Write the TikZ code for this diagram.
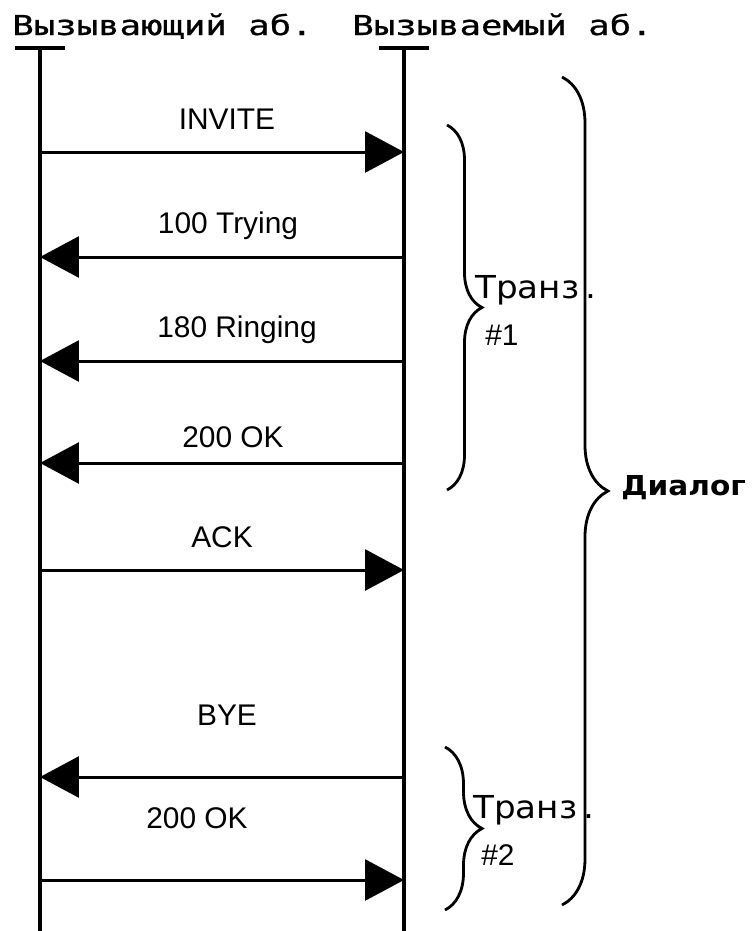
\documentclass[tikz,border=0pt]{standalone}
\usepackage{fontspec}
\setmainfont{Liberation Sans}
\newfontfamily\hdrfont[FakeStretch=1.3,FakeBold=0.8]{DejaVu Sans Mono}
\newfontfamily\brfont[FakeStretch=1.08]{DejaVu Sans}
\usetikzlibrary{arrows.meta,decorations.pathreplacing}

\tikzset{
  lifeline/.style={line width=2pt},
  msg/.style={line width=1.7pt, -{Triangle[length=0.78cm,width=0.82cm]}},
  lbl/.style={anchor=base, inner sep=0pt, font=\fontsize{17}{20}\selectfont},
  hdr/.style={anchor=base west, inner sep=0pt, font=\hdrfont\fontsize{15.6}{20}\selectfont},
  brc/.style={decorate, decoration={brace, amplitude=#1}, line width=1.6pt},
  brtxt/.style={anchor=base west, inner sep=0pt, font=\brfont\fontsize{18}{20}\selectfont},
  brnum/.style={anchor=base west, inner sep=0pt, font=\fontsize{17}{20}\selectfont}
}

\begin{document}
\begin{tikzpicture}[x=0.02cm, y=-0.02cm]
    \useasboundingbox (0,0) rectangle (752,931);

    % Abonents
    \node[hdr] (caller) at (12,35) {Вызывающий аб.};
    \node[hdr] (callee) at (352,35) {Вызываемый аб.};

    % Lifelines
    \coordinate (callerTop) at (40,48);
    \coordinate (callerEnd) at (40,931);
    \coordinate (calleeTop) at (404,48);
    \coordinate (calleeEnd) at (404,931);
    \draw[lifeline] ([xshift=-0.5cm]callerTop) -- ([xshift=0.5cm]callerTop);
    \draw[lifeline] ([xshift=-0.5cm]calleeTop) -- ([xshift=0.5cm]calleeTop);
    \draw[lifeline] (callerTop) -- (callerEnd);
    \draw[lifeline] (calleeTop) -- (calleeEnd);

    % Messages
    \foreach \name/\y in {invite/152, trying/257, ringing/361, okA/463,
                          ack/570, bye/777, okB/880} {
        \coordinate (\name-l) at (callerTop |- 0,\y);
        \coordinate (\name-r) at (calleeTop |- 0,\y);
    }
    \draw[msg] (invite-l) -- (invite-r);
    \draw[msg] (trying-r) -- (trying-l);
    \draw[msg] (ringing-r) -- (ringing-l);
    \draw[msg] (okA-r) -- (okA-l);
    \draw[msg] (ack-l) -- (ack-r);
    \draw[msg] (bye-r) -- (bye-l);
    \draw[msg] (okB-l) -- (okB-r);

    % Labels
    \node[lbl] (lInvite) at (227,129) {INVITE};
    \node[lbl] (lTrying) at (228,233) {100 Trying};
    \node[lbl] (lRinging) at (237,337) {180 Ringing};
    \node[lbl] (lOkA) at (233,447) {200 OK};
    \node[lbl] (lAck) at (222,547) {ACK};
    \node[lbl] (lBye) at (227,725) {BYE};
    \node[lbl] (lOkB) at (197,828) {200 OK};

    % Transactions
    \draw[brc=0.7cm] (447,125) -- (447,490);
    \node[brtxt] (tr1) at (475,298) {Транз\hspace{0.12cm}.};
    \node[brnum] (tr1n) at (485,345) {\#1};

    \draw[brc=0.74cm] (445,747) -- (445,910);
    \node[brtxt] (tr2) at (473,818) {Транз\hspace{0.12cm}.};
    \node[brnum] (tr2n) at (481,865) {\#2};

    % Dialog
    \draw[brc=0.92cm] (562,77) -- (562,905);
    \node[anchor=base west, inner sep=0pt, font=\brfont\bfseries\fontsize{15.6}{20}\selectfont] (dlg) at (621,495) {Диалог};
\end{tikzpicture}
\end{document}
